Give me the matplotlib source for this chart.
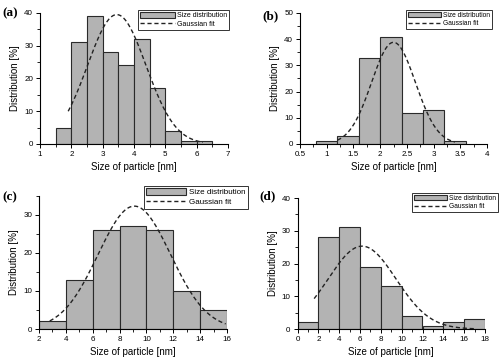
import numpy as np
import matplotlib
matplotlib.use("Agg")
import matplotlib.pyplot as plt
from matplotlib.ticker import MultipleLocator, FormatStrFormatter

plt.rcParams["font.family"] = ["Liberation Sans", "DejaVu Sans"]

# histogram bins (left edges), bin width and heights [%]
a_left = [1.5, 2.0, 2.5, 3.0, 3.5, 4.0, 4.5, 5.0, 5.5, 6.0]
a_width = 0.5
a_height = [5, 31, 39, 28, 24, 32, 17, 4, 1, 1]
a_fit = dict(amp=39.5, mu=3.45, sigma=0.935, x0=1.9, x1=6.2)

b_left = [0.8, 1.2, 1.6, 2.0, 2.4, 2.8, 3.2]
b_width = 0.4
b_height = [1, 3, 33, 41, 12, 13, 1]
b_fit = dict(amp=38.8, mu=2.25, sigma=0.41, x0=1.2, x1=3.4)

c_left = [2, 4, 6, 8, 10, 12, 14]
c_width = 2
c_height = [2, 13, 26, 27, 26, 10, 5]
c_fit = dict(amp=32.3, mu=9.1, sigma=2.7, x0=2.8, x1=15.9)

d_left = [0, 2, 4, 6, 8, 10, 12, 14, 16]
d_width = 2
d_height = [2, 28, 31, 19, 13, 4, 1, 2, 3]
d_fit = dict(amp=25.3, mu=6.2, sigma=3.25, x0=1.6, x1=17.0)

fig = plt.figure(figsize=(5, 3.6), dpi=100)

panels = [
    # tag, rect, left, width, heights, fit, xlim, xmaj, xmin, ylim, legend anchor, legend fs, tag pos
    ("(a)", [0.080, 0.600, 0.376, 0.364], a_left, a_width, a_height, a_fit,
     (1, 7), 1, 0.5, (0, 40), (1.005, 1.023), 5.0, (0.004, 0.963)),
    ("(b)", [0.600, 0.600, 0.374, 0.364], b_left, b_width, b_height, b_fit,
     (0.5, 4), 0.5, 0.25, (0, 50), (1.027, 1.023), 4.8, (0.524, 0.955)),
    ("(c)", [0.078, 0.086, 0.376, 0.370], c_left, c_width, c_height, c_fit,
     (2, 16), 2, 1, (0, 35), (1.11, 1.075), 5.8, (0.004, 0.452)),
    ("(d)", [0.595, 0.086, 0.375, 0.364], d_left, d_width, d_height, d_fit,
     (0, 18), 2, 1, (0, 40), (1.07, 1.04), 4.8, (0.518, 0.455)),
]

for tag, rect, left, width, height, fit, xlim, xmaj, xmin, ylim, anchor, lfs, tpos in panels:
    ax = fig.add_axes(rect)
    bars = ax.bar(left, height, width=width, align="edge", color="#b3b3b3",
                  edgecolor="#2a2a2a", linewidth=0.8)
    xs = np.linspace(fit["x0"], fit["x1"], 200)
    ys = fit["amp"] * np.exp(-(xs - fit["mu"]) ** 2 / (2 * fit["sigma"] ** 2))
    line, = ax.plot(xs, ys, color="#222222", linestyle=(0, (3, 2)), linewidth=1.0)
    ax.set_xlim(*xlim)
    ax.set_ylim(*ylim)
    ax.xaxis.set_major_locator(MultipleLocator(xmaj))
    ax.xaxis.set_minor_locator(MultipleLocator(xmin))
    ax.xaxis.set_major_formatter(FormatStrFormatter("%g"))
    ax.yaxis.set_major_locator(MultipleLocator(10))
    ax.yaxis.set_minor_locator(MultipleLocator(5))
    for s in ("top", "right"):
        ax.spines[s].set_visible(False)
    for s in ("left", "bottom"):
        ax.spines[s].set_linewidth(0.8)
    ax.tick_params(which="major", length=3, width=0.7, labelsize=5.8, pad=2)
    ax.tick_params(which="minor", length=2, width=0.6)
    ax.set_xlabel("Size of particle [nm]", fontsize=7, labelpad=3)
    ax.set_ylabel("Distribution [%]", fontsize=7, labelpad=3)
    leg = ax.legend([bars, line], ["Size distribution", "Gaussian fit"],
                    loc="upper right", bbox_to_anchor=anchor, fontsize=lfs,
                    handlelength=5, handleheight=0.9, fancybox=False,
                    framealpha=1, edgecolor="#333333", borderpad=0.3,
                    labelspacing=0.2, handletextpad=0.3, borderaxespad=0)
    leg.get_frame().set_linewidth(0.7)
    fig.text(tpos[0], tpos[1], tag, fontsize=9.5, fontweight="bold",
             family="Liberation Serif", va="center", ha="left")

fig.savefig("out.png", dpi=100)
